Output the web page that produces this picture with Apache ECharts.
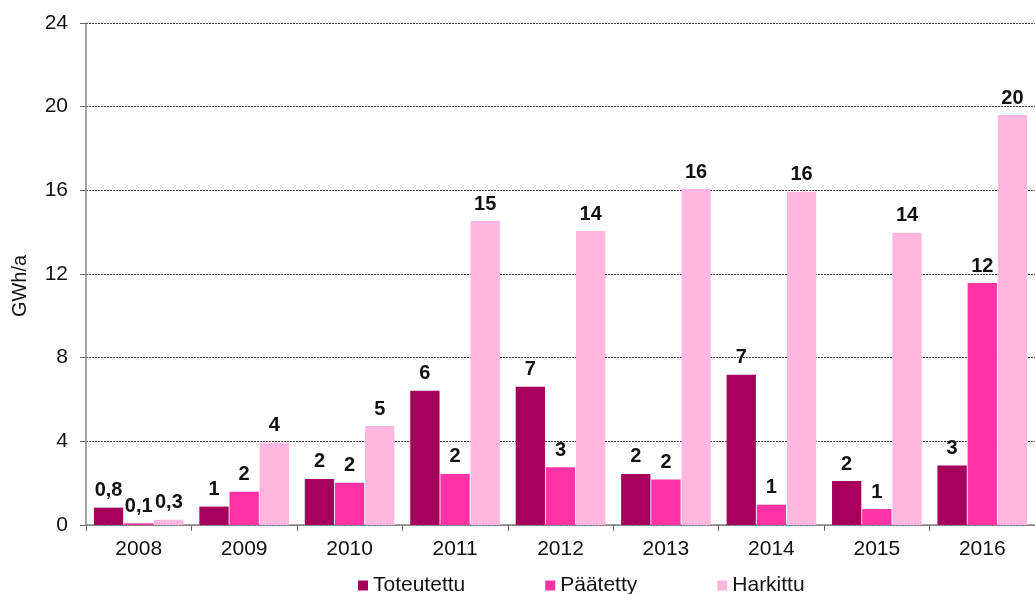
<!DOCTYPE html>
<html>
<head>
<meta charset="utf-8">
<script src="https://cdn.jsdelivr.net/npm/echarts@6/dist/echarts.min.js"></script>
<style>
html,body{margin:0;padding:0;background:#fff;}
#chart{width:1035px;height:594px;}
</style>
</head>
<body>
<div id="chart"></div>
<script>
const categories = ['2008','2009','2010','2011','2012','2013','2014','2015','2016'];
const toteutettu = [0.83, 0.88, 2.2, 6.42, 6.61, 2.44, 7.18, 2.1, 2.84];
const paatetty   = [0.08, 1.59, 2.02, 2.44, 2.76, 2.18, 0.97, 0.76, 11.57];
const harkittu   = [0.25, 3.93, 4.73, 14.53, 14.05, 16.06, 15.93, 13.97, 19.6];
const toteutettuLabels = ['0,8','1','2','6','7','2','7','2','3'];
const paatettyLabels   = ['0,1','2','2','2','3','2','1','1','12'];
const harkittuLabels   = ['0,3','4','5','15','14','16','16','14','20'];
const yTicks = [0, 4, 8, 12, 16, 20, 24];

const font = 'Liberation Sans, Arial, sans-serif';
function labelCfg(arr){
  return {
    show: true, position: 'top', distance: 7,
    fontFamily: font, fontSize: 20, fontWeight: 'bold', color: '#111',
    formatter: p => arr[p.dataIndex]
  };
}
const chart = echarts.init(document.getElementById('chart'), null, {renderer:'canvas'});
chart.setOption({
  animation: false,
  backgroundColor: '#fff',
  grid: {left: 86, top: 23, width: 958, height: 502, containLabel: false},
  legend: {
    left: 353, top: 570, itemWidth: 10, itemHeight: 10, itemGap: 80,
    icon: 'rect',
    textStyle: {fontFamily: font, fontSize: 21, color: '#111'},
    data: ['Toteutettu','Päätetty','Harkittu']
  },
  xAxis: {
    type: 'category', data: categories,
    axisLine: {lineStyle: {color: '#888', width: 1.5}},
    axisTick: {show: true, length: 6, lineStyle: {color: '#666'}},
    axisLabel: {fontFamily: font, fontSize: 21, color: '#111', margin: 14}
  },
  yAxis: {
    type: 'value', min: yTicks[0], max: yTicks[yTicks.length-1], interval: 4,
    name: 'GWh/a', nameLocation: 'middle', nameGap: 56, nameRotate: 90,
    nameTextStyle: {fontFamily: font, fontSize: 20, color: '#111', padding: [0, 24, 0, 0]},
    axisLine: {show: true, lineStyle: {color: '#888', width: 1.5}},
    axisTick: {show: true, length: 6, lineStyle: {color: '#666'}},
    axisLabel: {fontFamily: font, fontSize: 21, color: '#111', margin: 18},
    splitLine: {lineStyle: {color: '#444', type: [2,1], width: 1}}
  },
  series: [
    {name: 'Toteutettu', type: 'bar', data: toteutettu, barGap: '3%', barCategoryGap: '15%',
     itemStyle: {color: '#a5005c'}, label: labelCfg(toteutettuLabels)},
    {name: 'Päätetty', type: 'bar', data: paatetty,
     itemStyle: {color: '#ff33a6'}, label: labelCfg(paatettyLabels)},
    {name: 'Harkittu', type: 'bar', data: harkittu,
     itemStyle: {color: '#ffb6df'}, label: labelCfg(harkittuLabels)}
  ]
});
</script>
</body>
</html>
